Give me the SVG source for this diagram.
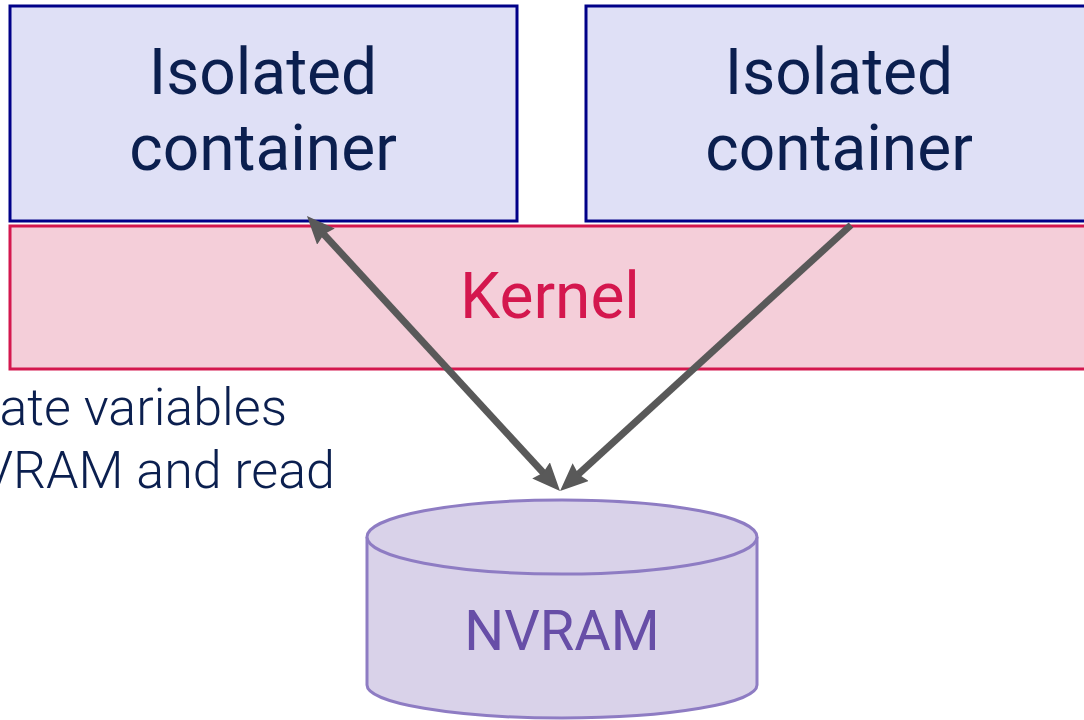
<svg xmlns="http://www.w3.org/2000/svg" width="1084" height="720" viewBox="0 0 1084 720">
<style>
.box{fill:#dfe0f6;stroke:#000088;stroke-width:3}
.ctext{font-family:Roboto,"Liberation Sans",sans-serif;font-size:64px;fill:#0b1f4f;text-anchor:middle}
.kernel{fill:#f4ced9;stroke:#d4174e;stroke-width:3}
.ktext{font-family:Roboto,"Liberation Sans",sans-serif;font-size:64px;fill:#d4174e;text-anchor:middle}
.cyl{fill:#d9d2e9;stroke:#8e7cc3;stroke-width:3}
.ntext{font-family:Roboto,"Liberation Sans",sans-serif;font-size:56px;fill:#674ea7;text-anchor:middle}
.note{font-family:Roboto,"Liberation Sans",sans-serif;font-size:52px;font-weight:300;fill:#0b1f4f;text-anchor:end}
.conn{stroke:#595959;stroke-width:7;fill:none}
</style>
<defs>
<marker id="ah" markerUnits="userSpaceOnUse" markerWidth="30" markerHeight="26" refX="16" refY="12" orient="auto-start-reverse">
<path d="M0,0 L28,12 L0,24 L3,12 z" fill="#595959"/>
</marker>
</defs>
<g id="container-left">
<rect class="box" x="10" y="6" width="507" height="215"/>
<text class="ctext" x="263" y="94">Isolated</text>
<text class="ctext" x="263" y="170">container</text>
</g>
<g id="container-right">
<rect class="box" x="586" y="6" width="520" height="215"/>
<text class="ctext" x="839" y="94">Isolated</text>
<text class="ctext" x="839" y="170">container</text>
</g>
<g id="kernel">
<rect class="kernel" x="10" y="226" width="1100" height="143"/>
<text class="ktext" x="550" y="318">Kernel</text>
</g>
<g id="note">
<text class="note" x="287" y="425">ate variables</text>
<text class="note" x="335" y="488">VRAM and read</text>
</g>
<g id="nvram">
<path class="cyl" d="M367,537 L367,685 A195,33 0 0 0 757,685 L757,537"/>
<ellipse class="cyl" cx="562" cy="537" rx="195" ry="37"/>
<text class="ntext" x="562" y="650">NVRAM</text>
</g>
<g id="connectors">
<line class="conn" x1="315.1" y1="224.8" x2="551.9" y2="482.2" marker-start="url(#ah)" marker-end="url(#ah)"/>
<line class="conn" x1="851" y1="225" x2="568.9" y2="482.9" marker-end="url(#ah)"/>
</g>
</svg>
